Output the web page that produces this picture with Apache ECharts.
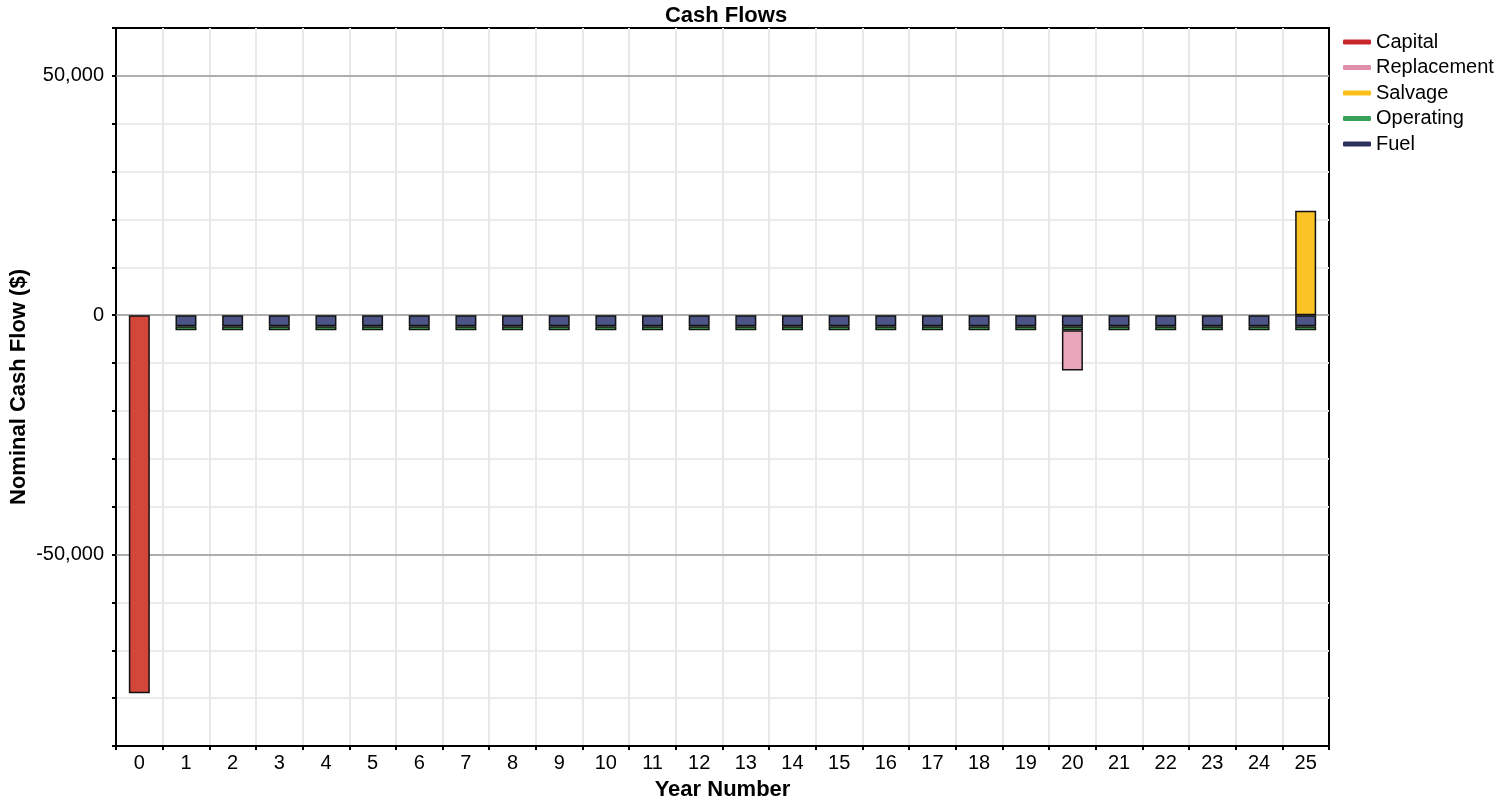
<!DOCTYPE html>
<html>
<head>
<meta charset="utf-8">
<title>Cash Flows</title>
<script src="https://cdn.jsdelivr.net/npm/echarts@6/dist/echarts.min.js"></script>
<style>
  html, body { margin: 0; padding: 0; background: #fff; }
  #cash_flow_con { width: 1504px; height: 802px; }
</style>
</head>
<body>
<div id="cash_flow_con"></div>
<script>
    // values (nominal $)
    var years = ['0','1','2','3','4','5','6','7','8','9','10','11','12','13','14','15','16','17','18','19','20','21','22','23','24','25'];
    var capital = [-79000,null,null,null,null,null,null,null,null,null,null,null,null,null,null,null,null,null,null,null,null,null,null,null,null,null];
    var replacement = [null,null,null,null,null,null,null,null,null,null,null,null,null,null,null,null,null,null,null,null,-8400,null,null,null,null,null];
    var salvage = [null,null,null,null,null,null,null,null,null,null,null,null,null,null,null,null,null,null,null,null,null,null,null,null,null,21800];
    var operating = [null,-850,-850,-850,-850,-850,-850,-850,-850,-850,-850,-850,-850,-850,-850,-850,-850,-850,-850,-850,-850,-850,-850,-850,-850,-850];
    var fuel = [null,-2300,-2300,-2300,-2300,-2300,-2300,-2300,-2300,-2300,-2300,-2300,-2300,-2300,-2300,-2300,-2300,-2300,-2300,-2300,-2300,-2300,-2300,-2300,-2300,-2300];
    var majorLines = [50000, 0, -50000];

    var font = 'Liberation Sans, Arial, sans-serif';
    var barBorder = { borderColor: '#111', borderWidth: 1.5 };

    function bar(name, data, color) {
        return {
            name: name,
            type: 'bar',
            stack: 'cash',
            barWidth: 21,
            data: data,
            itemStyle: Object.assign({ color: color }, barBorder)
        };
    }

    var series = [
        bar('Fuel', fuel, '#4d5488'),
        bar('Operating', operating, '#43b05c'),
        bar('Replacement', replacement, '#e8a6bb'),
        bar('Capital', capital, '#d2473a'),
        bar('Salvage', salvage, '#fcc327')
    ];
    series[0].markLine = {
        silent: true,
        symbol: 'none',
        z: 1,
        label: { show: false },
        lineStyle: { color: '#9a9a9a', width: 1.5, type: 'solid' },
        data: majorLines.map(function (v) { return { yAxis: v }; })
    };

    var chart = echarts.init(document.getElementById('cash_flow_con'));
    chart.setOption({
        animation: false,
        textStyle: { fontFamily: font },
        title: {
            text: 'Cash Flows',
            left: 721,
            textAlign: 'center',
            top: 0,
            textStyle: { fontSize: 22, fontWeight: 'bold', color: '#000', fontFamily: font }
        },
        legend: {
            orient: 'vertical',
            left: 1338,
            top: 26,
            icon: 'roundRect',
            itemWidth: 28,
            itemHeight: 5,
            itemGap: 3.5,
            itemStyle: { borderWidth: 0 },
            textStyle: { fontSize: 20, color: '#000', lineHeight: 22, fontFamily: font },
            data: [
                { name: 'Capital', itemStyle: { color: '#c9262b' } },
                { name: 'Replacement', itemStyle: { color: '#e08fab' } },
                { name: 'Salvage', itemStyle: { color: '#fcbf1a' } },
                { name: 'Operating', itemStyle: { color: '#38a058' } },
                { name: 'Fuel', itemStyle: { color: '#2a2f5e' } }
            ]
        },
        grid: {
            left: 116,
            right: 175,
            top: 28,
            bottom: 56,
            outerBoundsMode: 'none',
            containLabel: false,
            show: true,
            borderColor: '#000',
            borderWidth: 2
        },
        xAxis: {
            type: 'category',
            data: years,
            name: 'Year Number',
            nameLocation: 'middle',
            nameGap: 33,
            nameTextStyle: { fontSize: 22, fontWeight: 'bold', color: '#000', fontFamily: font },
            axisLine: { onZero: false, lineStyle: { color: '#000', width: 2 } },
            axisTick: { show: true, length: 4, lineStyle: { color: '#000', width: 2 } },
            axisLabel: { fontSize: 20, color: '#000', margin: 7, fontFamily: font },
            splitLine: { show: true, showMinLine: false, showMaxLine: false, lineStyle: { color: '#e8e8e8', width: 2 } }
        },
        yAxis: {
            type: 'value',
            min: -90000,
            max: 60000,
            interval: 10000,
            name: 'Nominal Cash Flow ($)',
            nameLocation: 'middle',
            nameGap: 86,
            nameMoveOverlap: false,
            nameTextStyle: { fontSize: 22, fontWeight: 'bold', color: '#000', fontFamily: font },
            axisLine: { show: true, lineStyle: { color: '#000', width: 2 } },
            axisTick: { show: true, length: 4, lineStyle: { color: '#000', width: 2 } },
            axisLabel: {
                fontSize: 20,
                color: '#000',
                margin: 12,
                fontFamily: font,
                formatter: function (v) {
                    if (v % 50000 !== 0) return '';
                    return echarts.format.addCommas(v);
                }
            },
            splitLine: { show: true, showMinLine: false, showMaxLine: false, lineStyle: { color: '#ebebeb', width: 2 } }
        },
        series: series
    });
</script>
</body>
</html>
